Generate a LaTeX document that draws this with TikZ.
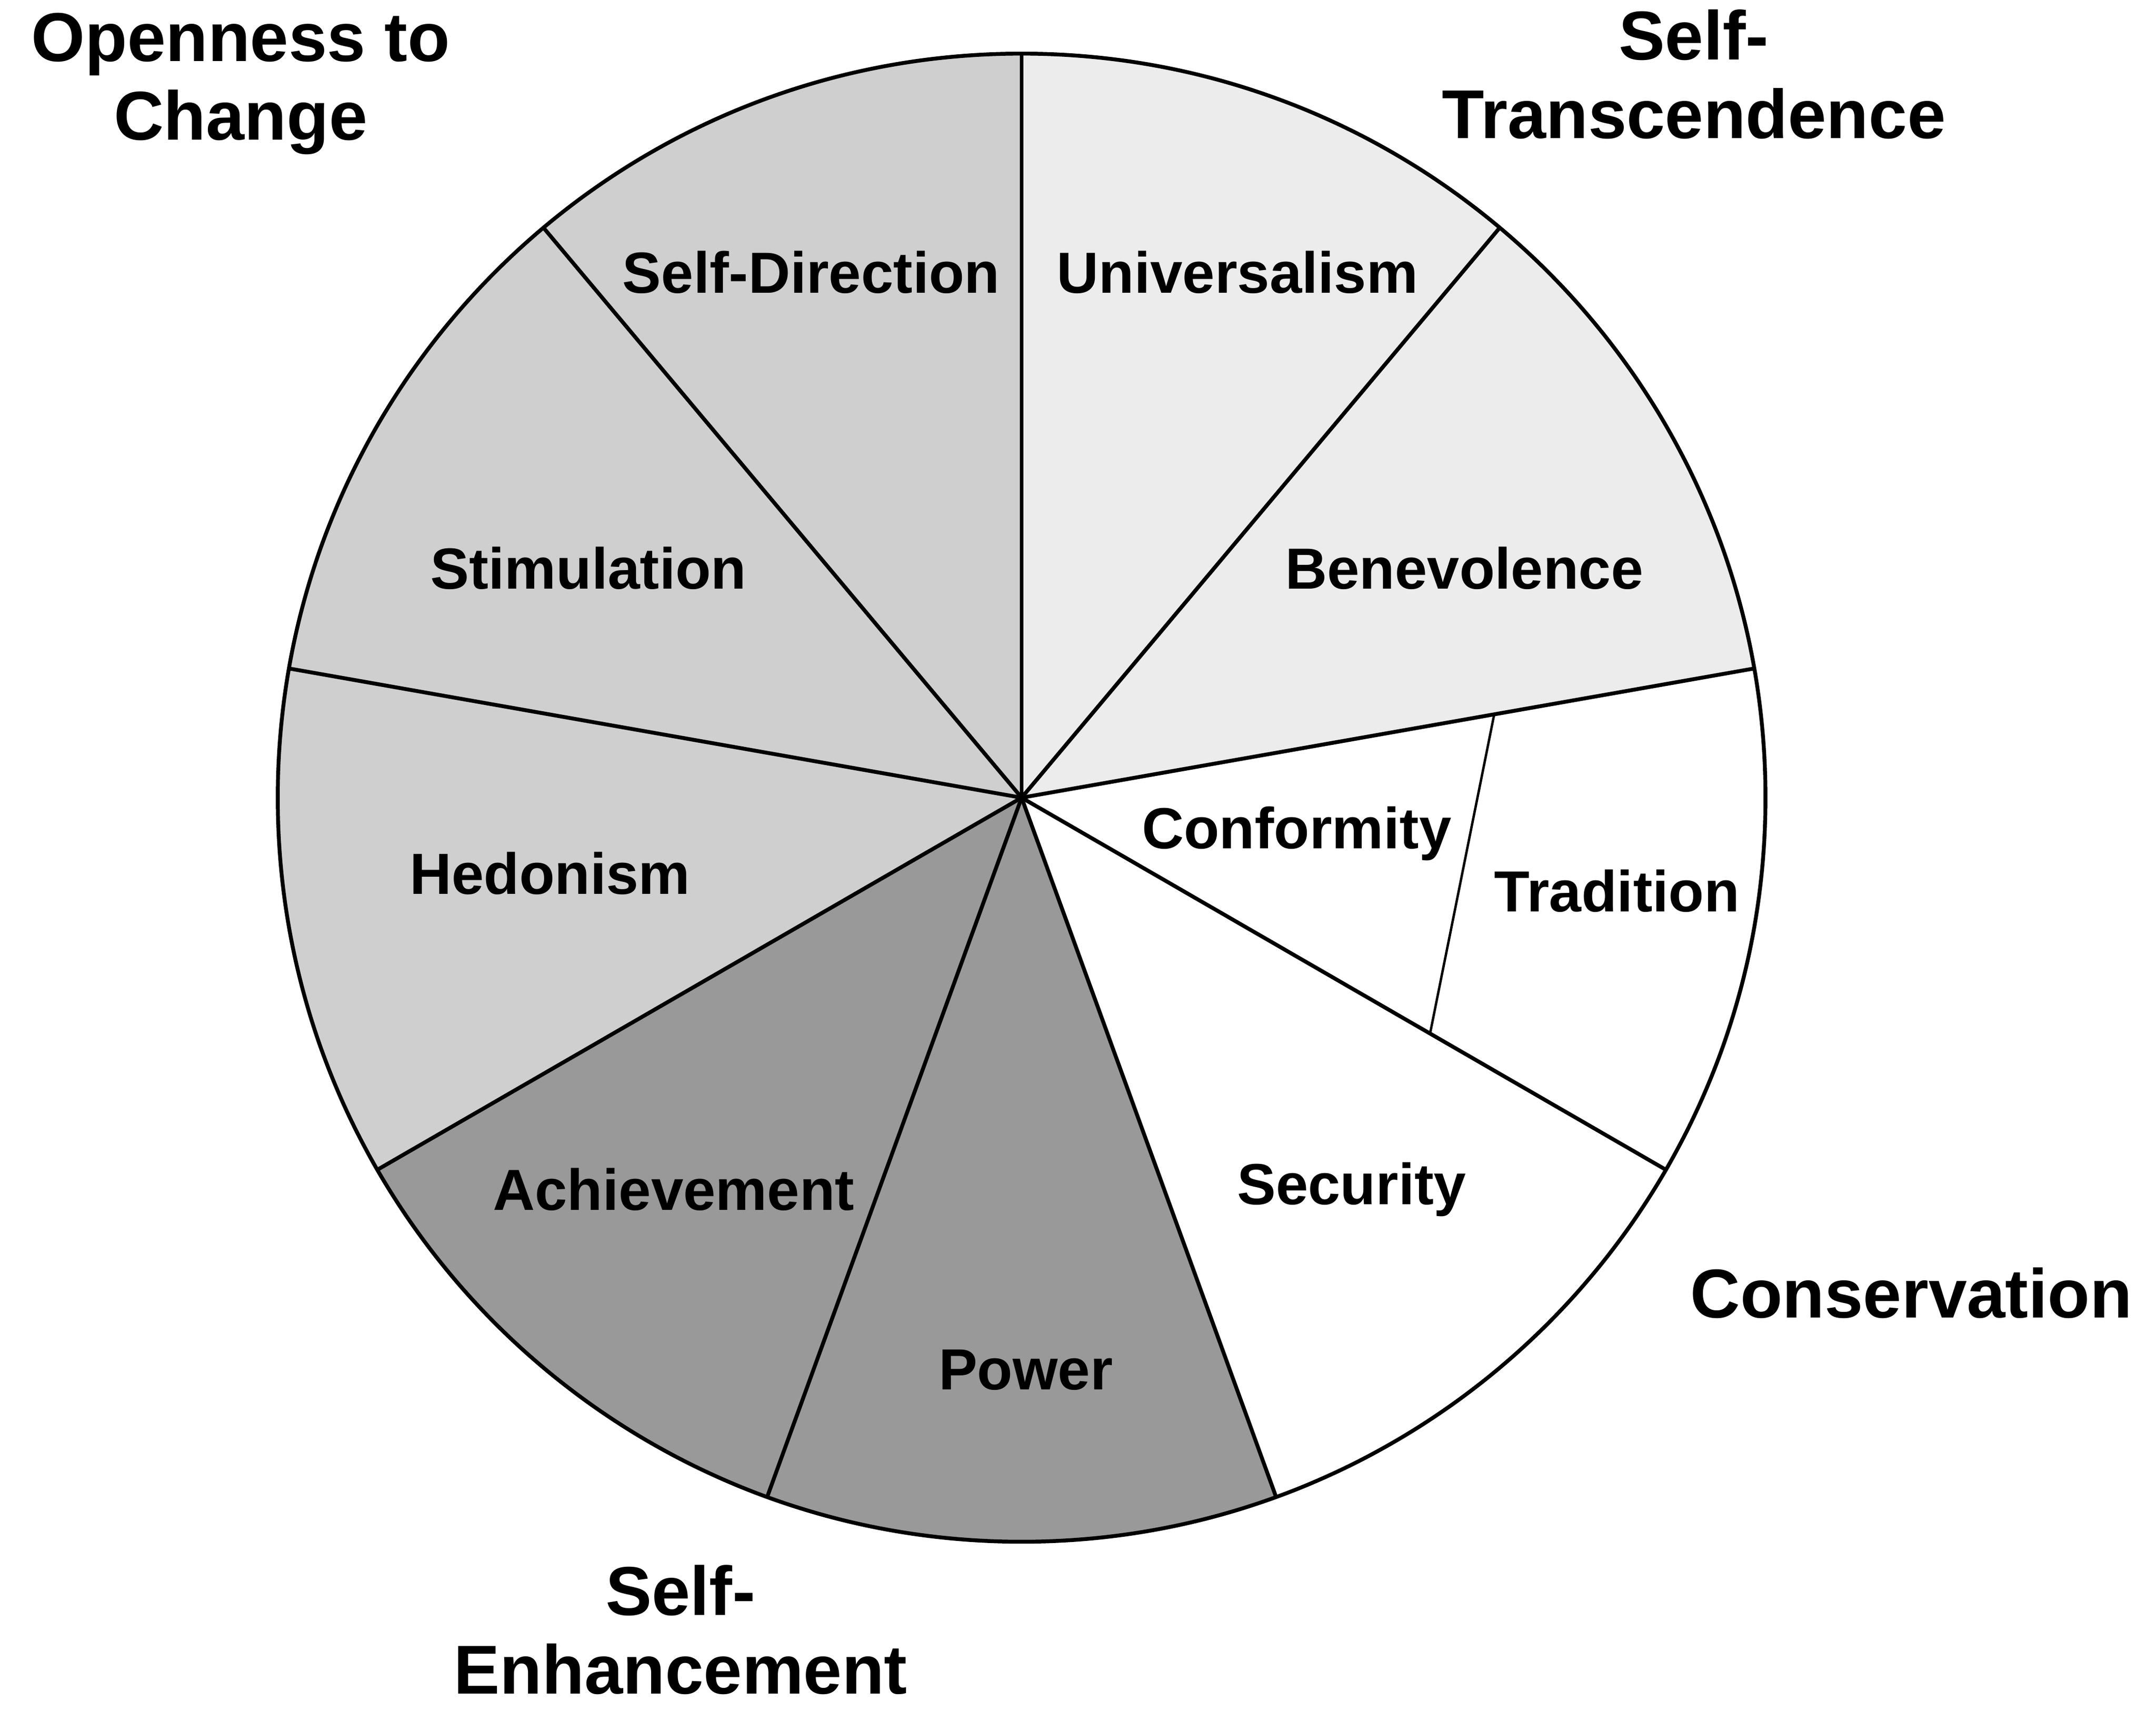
\documentclass[tikz,border=0pt]{standalone}
\usepackage{fontspec}
\setmainfont{Liberation Sans}
\usetikzlibrary{calc}
\begin{document}
\begin{tikzpicture}[x=0.01cm,y=0.01cm,
  lab/.style={font=\bfseries\fontsize{12}{14}\selectfont},
  big/.style={font=\bfseries\fontsize{14.3}{16.2}\selectfont,align=center},
  sl/.style={draw=black,line width=0.8pt}]
\useasboundingbox (0,0) rectangle (1568,1251);
\coordinate (c) at (743,671);
\def\R{541}
\foreach \a/\b/\col in {90/130/gray!38,130/170/gray!38,170/210/gray!38,210/250/gray!80,250/290/gray!80,290/330/white,330/370/white,370/410/gray!15,410/450/gray!15}
  \fill[\col] (c) -- ++(\a:\R) arc (\a:\b:\R) -- cycle;
\foreach \a in {10,50,90,130,170,210,250,290,330}
  \draw[sl] (c) -- ++(\a:\R);
\draw[sl] (c) circle (\R);
\draw[line width=0.5pt] ($(c)+(10:349)$) -- ($(c)+(-30:343)$);
\node[lab] (sd) at (590,1053) {Self-Direction};
\node[lab] (un) at (900,1053) {Universalism};
\node[lab] (st) at (428,838) {Stimulation};
\node[lab] (be) at (1065,838) {Benevolence};
\node[lab] (he) at (400,616) {Hedonism};
\node[lab] (co) at (943,645) {Conformity};
\node[lab] (tr) at (1176,603) {Tradition};
\node[lab] (ac) at (490,386) {Achievement};
\node[lab] (se) at (983,386) {Security};
\node[lab] (po) at (746,255) {Power};
\node[big] (oc) at (175,1190) {Openness to\\Change};
\node[big] (stc) at (1232,1197) {Self-\\Transcendence};
\node[big] (cn) at (1390,311) {Conservation};
\node[big] (sen) at (495,66) {Self-\\Enhancement};
\end{tikzpicture}
\end{document}
